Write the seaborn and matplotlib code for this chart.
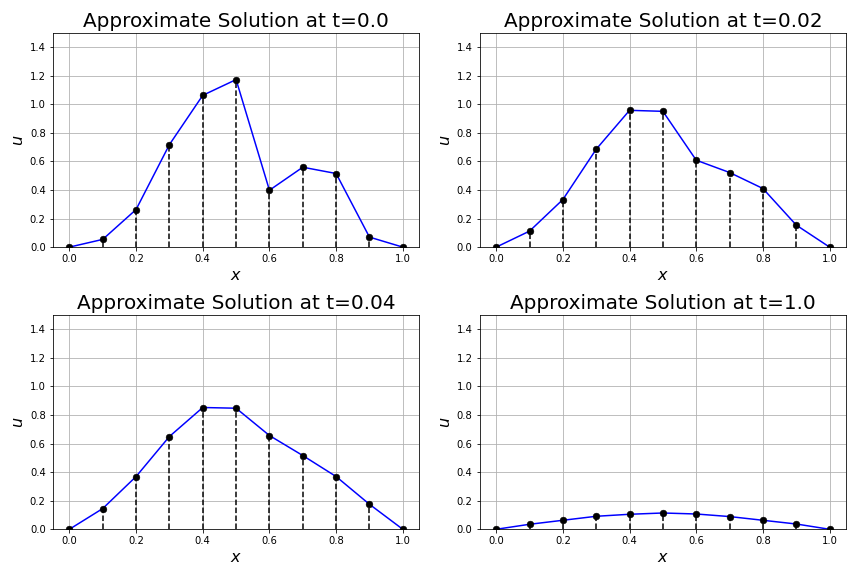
import matplotlib
matplotlib.use("Agg")
import matplotlib.pyplot as plt
import seaborn as sns
import numpy as np
import pandas as pd

x = [0.0, 0.1, 0.2, 0.3, 0.4, 0.5, 0.6, 0.7, 0.8, 0.9, 1.0]
u_t0 = [0.0, 0.054, 0.263, 0.717, 1.062, 1.172, 0.398, 0.559, 0.515, 0.070, 0.0]
u_t002 = [0.0, 0.112, 0.333, 0.685, 0.957, 0.950, 0.608, 0.522, 0.410, 0.154, 0.0]
u_t004 = [0.0, 0.145, 0.369, 0.649, 0.852, 0.847, 0.656, 0.516, 0.369, 0.175, 0.0]
u_t1 = [0.0, 0.035, 0.063, 0.091, 0.105, 0.114, 0.107, 0.089, 0.063, 0.037, 0.0]
times = ["0.0", "0.02", "0.04", "1.0"]
series = [u_t0, u_t002, u_t004, u_t1]

fig, axes = plt.subplots(2, 2, figsize=(12, 8), dpi=72)
for ax, t, u in zip(axes.flat, times, series):
    df = pd.DataFrame({"x": x, "u": u})
    ax.vlines(df["x"], 0, df["u"], colors="black", linestyles="dashed", linewidth=1.5, zorder=2)
    sns.lineplot(data=df, x="x", y="u", ax=ax, color="blue", linewidth=1.5, zorder=3)
    sns.scatterplot(data=df, x="x", y="u", ax=ax, color="black", s=45, edgecolor="black", zorder=4)
    ax.set_ylim(0, 1.5)
    ax.set_yticks([0.0, 0.2, 0.4, 0.6, 0.8, 1.0, 1.2, 1.4])
    ax.set_xticks([0.0, 0.2, 0.4, 0.6, 0.8, 1.0])
    ax.grid(True)
    ax.set_axisbelow(True)
    ax.set_title(f"Approximate Solution at t={t}", fontsize=20)
    ax.set_xlabel("$x$", fontsize=16)
    ax.set_ylabel("$u$", fontsize=16)

fig.subplots_adjust(left=0.061, right=0.9795, top=0.9432, bottom=0.0811,
                    wspace=0.1637, hspace=0.316)
fig.savefig("out.png", dpi=72)
